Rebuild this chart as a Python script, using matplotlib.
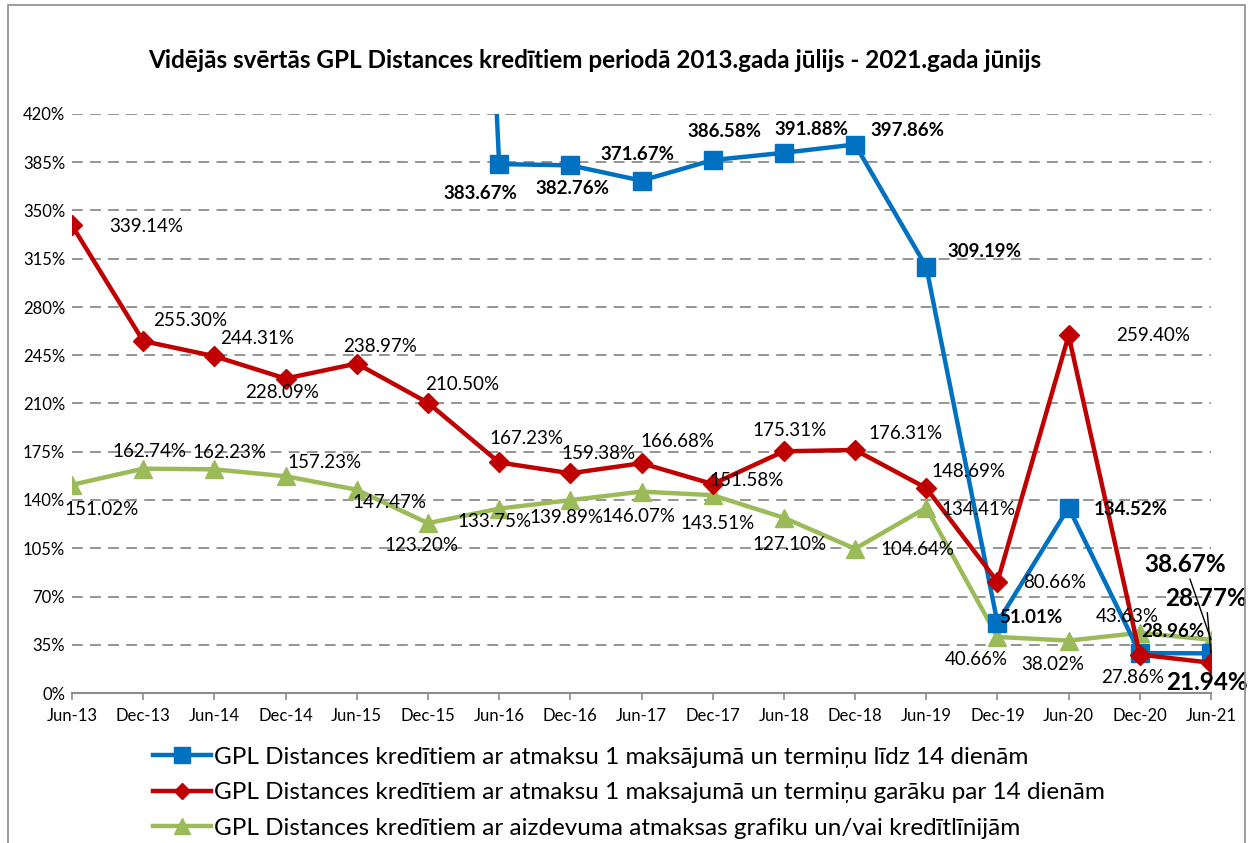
import matplotlib
matplotlib.use("Agg")
import matplotlib.pyplot as plt
import numpy as np
from matplotlib.patches import Rectangle

plt.rcParams['font.family'] = ['Lato', 'DejaVu Sans']

categories = ["Jun-13", "Dec-13", "Jun-14", "Dec-14", "Jun-15", "Dec-15", "Jun-16", "Dec-16",
              "Jun-17", "Dec-17", "Jun-18", "Dec-18", "Jun-19", "Dec-19", "Jun-20", "Dec-20", "Jun-21"]

blue_values = [None, None, None, None, None, 1500.0, 383.67, 382.76, 371.67, 386.58, 391.88,
               397.86, 309.19, 51.01, 134.52, 28.96, 28.77]
red_values = [339.14, 255.30, 244.31, 228.09, 238.97, 210.50, 167.23, 159.38, 166.68, 151.58,
              175.31, 176.31, 148.69, 80.66, 259.40, 27.86, 21.94]
green_values = [151.02, 162.74, 162.23, 157.23, 147.47, 123.20, 133.75, 139.89, 146.07, 143.51,
                127.10, 104.64, 134.41, 40.66, 38.02, 43.63, 38.67]

series_names = [
    "GPL Distances kredītiem ar atmaksu 1 maksājumā un termiņu līdz 14 dienām",
    "GPL Distances kredītiem ar atmaksu 1 maksajumā un termiņu garāku par 14 dienām",
    "GPL Distances kredītiem ar aizdevuma atmaksas grafiku un/vai kredītlīnijām",
]
title = "Vidējās svērtās GPL Distances kredītiem periodā 2013.gada jūlijs - 2021.gada jūnijs"

y_ticks = list(range(0, 421, 35))

# label offsets in pixels (layout only)
blue_offsets = {6: (-19, -29), 7: (2, -23), 8: (-4, 26), 9: (12, 29), 10: (28, 23), 11: (52, 14),
                12: (58, 15), 13: (33, 5), 14: (62, -2), 15: (33, 22), 16: (-5, 55)}
red_offsets = [(74, -1), (47, 21), (43, 18), (-4, -14), (23, 17), (34, 18), (27, 24), (28, 20),
               (36, 22), (34, 4), (6, 21), (50, 16), (42, 17), (57, -1), (84, 0), (-7, -23), (-4, -20)]
green_offsets = [(30, -25), (6, 17), (15, 17), (39, 14), (33, -13), (-7, -22), (-5, -13), (-4, -17),
                 (-3, -25), (5, -28), (6, -27), (62, -1), (52, -2), (-21, -23), (-16, -24), (-13, 16),
                 (-26, 75)]

BLUE = "#0070C0"
RED = "#C00000"
GREEN = "#9BBB59"

fig = plt.figure(figsize=(12.53, 8.43), dpi=100)
fig.patches.append(Rectangle((8 / 1253, -0.1), 1237 / 1253, 1.1 - 5 / 843, transform=fig.transFigure,
                             fill=False, edgecolor="#8c8c8c", linewidth=1.2))
ax = fig.add_axes([72 / 1253, 1 - 693 / 843, (1211 - 72) / 1253, (693 - 114) / 843])

x = np.arange(len(categories))

bx = [i for i, v in enumerate(blue_values) if v is not None]
bv = [v for v in blue_values if v is not None]

lb, = ax.plot(bx, bv, color=BLUE, lw=3.2, marker="s", ms=13, zorder=3,
              label=series_names[0])
lr, = ax.plot(x, red_values, color=RED, lw=3.2, marker="D", ms=10, zorder=4,
              label=series_names[1])
lg, = ax.plot(x, green_values, color=GREEN, lw=3.2, marker="^", ms=13, zorder=2,
              label=series_names[2])
for l in (lb, lr, lg):
    l.set_clip_on(True)

ax.set_xlim(0, len(categories) - 1)
ax.set_ylim(0, 420)
ax.set_yticks(y_ticks)
ax.set_yticklabels([f"{t}%" for t in y_ticks])
ax.set_xticks(x)
ax.set_xticklabels(categories)

for s in ["top", "right", "left"]:
    ax.spines[s].set_visible(False)
ax.spines["bottom"].set_color("#8c8c8c")
ax.spines["bottom"].set_linewidth(1.5)
ax.tick_params(axis="y", length=0, labelsize=12, pad=5)
ax.tick_params(axis="x", length=5, color="#8c8c8c", width=1.2, labelsize=12, pad=6)
for t in y_ticks[1:]:
    ax.axhline(t, color="#8c8c8c", lw=1.3, ls=(0, (6, 4)), zorder=0)

lab_fs = 13.5
big_fs = 17.5

for i, (dx, dy) in blue_offsets.items():
    v = blue_values[i]
    big = i == len(categories) - 1
    kw = {}
    if big:
        kw = dict(arrowprops=dict(arrowstyle="-", color="black", lw=1, shrinkA=0, shrinkB=0))
    ax.annotate(f"{v:.2f}%", (i, v), xytext=(dx, dy), textcoords="offset pixels",
                ha="center", va="center", fontsize=big_fs if big else lab_fs,
                fontweight="bold", zorder=6, annotation_clip=False, **kw)

for i, v in enumerate(red_values):
    dx, dy = red_offsets[i]
    big = i == len(categories) - 1
    ax.annotate(f"{v:.2f}%", (i, v), xytext=(dx, dy), textcoords="offset pixels",
                ha="center", va="center", fontsize=big_fs if big else lab_fs,
                fontweight="bold" if big else "normal", zorder=6, annotation_clip=False)

for i, v in enumerate(green_values):
    dx, dy = green_offsets[i]
    big = i == len(categories) - 1
    kw = {}
    if big:
        kw = dict(arrowprops=dict(arrowstyle="-", color="black", lw=1, shrinkA=0, shrinkB=0))
    ax.annotate(f"{v:.2f}%", (i, v), xytext=(dx, dy), textcoords="offset pixels",
                ha="center", va="center", fontsize=big_fs if big else lab_fs,
                fontweight="bold" if big else "normal", zorder=6, annotation_clip=False, **kw)

fig.text(595 / 1253, 1 - 60 / 843, title, ha="center", va="center", fontsize=17.5, fontweight="bold")

fig.legend(handles=[lb, lr, lg], loc="upper left", bbox_to_anchor=(143 / 1253, 1 - 737 / 843),
           frameon=False, fontsize=17.5, handlelength=2.4, handletextpad=0.12, labelspacing=0.6,
           markerscale=0.85, borderaxespad=0)

fig.savefig("out.png", dpi=100)
